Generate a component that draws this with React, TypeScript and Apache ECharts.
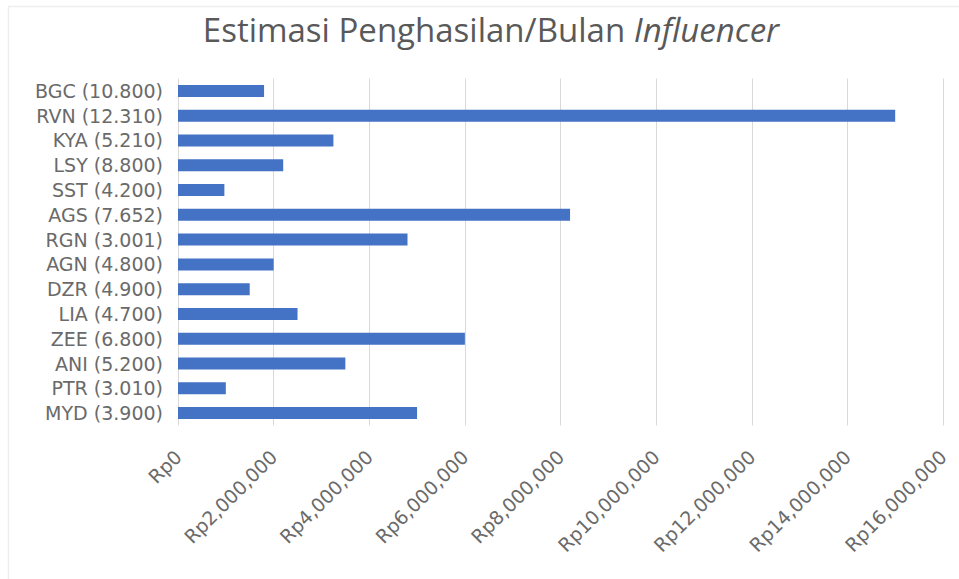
import React, { useEffect, useRef } from "react";
import * as echarts from "echarts";

const categories = [
  "BGC (10.800)",
  "RVN (12.310)",
  "KYA (5.210)",
  "LSY (8.800)",
  "SST (4.200)",
  "AGS (7.652)",
  "RGN (3.001)",
  "AGN (4.800)",
  "DZR (4.900)",
  "LIA (4.700)",
  "ZEE (6.800)",
  "ANI (5.200)",
  "PTR (3.010)",
  "MYD (3.900)",
];

const earnings = [
  1800000, 15000000, 3250000, 2200000, 970000, 8200000, 4800000, 2000000,
  1500000, 2500000, 6000000, 3500000, 1000000, 5000000,
];

const xMin = 0;
const xMax = 16000000;
const xInterval = 2000000;

const fmtRp = (v: number) => "Rp" + v.toLocaleString("en-US");

export default function App() {
  const ref = useRef<HTMLDivElement>(null);
  useEffect(() => {
    if (!ref.current) return;
    const chart = echarts.init(ref.current, undefined, { renderer: "svg" });
    const textColor = "#595959";
    const labelColor = "#6a6a6a";
    const font = "'Open Sans', 'Noto Sans', sans-serif";
    const wide = "'DejaVu Sans', sans-serif";
    chart.setOption({
      animation: false,
      backgroundColor: "#ffffff",
      title: {
        text: "{n|Estimasi Penghasilan/Bulan }{i|Influencer}",
        left: 486,
        textAlign: "center",
        top: 8,
        textStyle: {
          rich: {
            n: { fontSize: 33, color: textColor, fontFamily: font, fontWeight: "normal" },
            i: { fontSize: 33, color: textColor, fontFamily: font, fontStyle: "italic", fontWeight: "normal" },
          },
        },
      },
      graphic: [
        { type: "line", shape: { x1: 8, y1: 6.5, x2: 959, y2: 6.5 }, style: { stroke: "#eeeeee", lineWidth: 1.5 }, silent: true },
        { type: "line", shape: { x1: 8.5, y1: 6, x2: 8.5, y2: 579 }, style: { stroke: "#eeeeee", lineWidth: 1.5 }, silent: true },
      ],
      grid: { left: 178, right: 16, top: 78.5, height: 347, containLabel: false },
      xAxis: {
        type: "value",
        min: xMin,
        max: xMax,
        interval: xInterval,
        axisLine: { show: false },
        axisTick: { show: false },
        splitLine: { show: true, lineStyle: { color: "#d9d9d9", width: 1 } },
        axisLabel: {
          rotate: 45,
          margin: 28,
          color: labelColor,
          fontSize: 19,
          fontFamily: wide,
          formatter: (v: number) => fmtRp(v),
        },
      },
      yAxis: {
        type: "category",
        data: categories,
        inverse: true,
        axisLine: { show: false },
        axisTick: { show: false },
        axisLabel: {
          color: labelColor,
          fontSize: 19,
          fontFamily: wide,
          margin: 15,
        },
      },
      series: [
        {
          type: "bar",
          data: earnings,
          barWidth: 12,
          itemStyle: { color: "#4472c4" },
        },
      ],
    });
    return () => chart.dispose();
  }, []);
  return (
    <div
      ref={ref}
      style={{ position: "absolute", left: 0, top: 0, width: 959, height: 579 }}
    />
  );
}
